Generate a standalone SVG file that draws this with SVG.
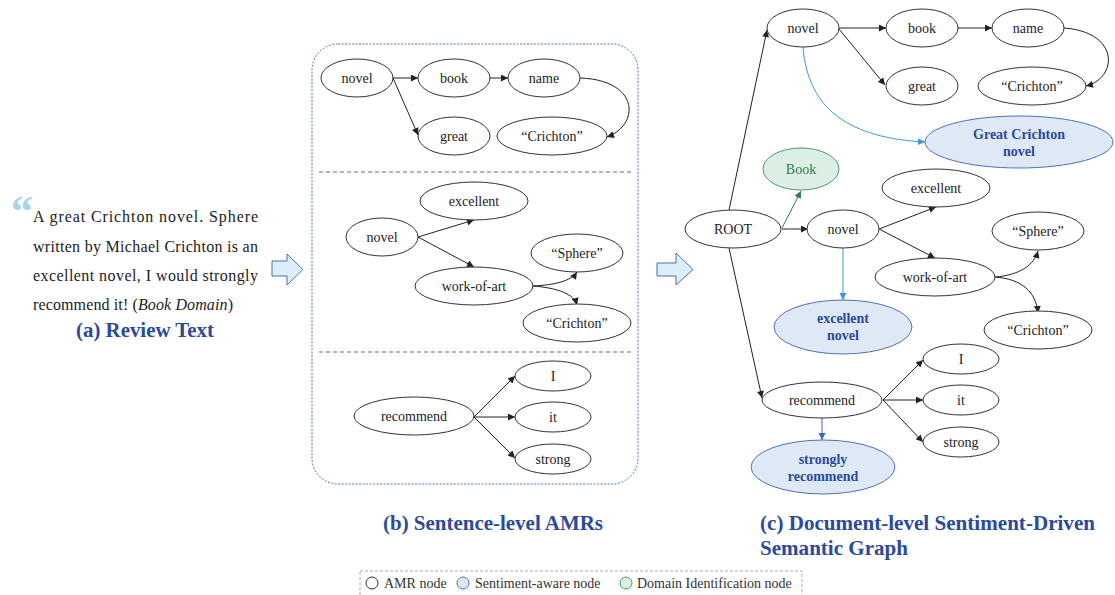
<svg xmlns="http://www.w3.org/2000/svg" width="1115" height="595" viewBox="0 0 1115 595">
  <style>
    .amr { fill: #ffffff; stroke: #333333; stroke-width: 1; }
    .senti { fill: #dfe9f5; stroke: #4a72b8; stroke-width: 1; }
    .domain { fill: #dcefe4; stroke: #4a9a6a; stroke-width: 1; }
    .lbl { font-family: "Liberation Serif", "Times New Roman", serif; font-size: 14px; fill: #222222; text-anchor: middle; }
    .slbl { font-family: "Liberation Serif", "Times New Roman", serif; font-size: 14px; font-weight: bold; fill: #2b4a9b; text-anchor: middle; }
    .dlbl { font-family: "Liberation Serif", "Times New Roman", serif; font-size: 14px; fill: #2e7d52; text-anchor: middle; }
    .edge { fill: none; stroke: #222222; stroke-width: 1; marker-end: url(#arrow); }
    .sedge { fill: none; stroke: #3a9ad9; stroke-width: 1; marker-end: url(#arrowLight); }
    .sedge2 { fill: none; stroke: #3a6ac0; stroke-width: 1; marker-end: url(#arrowBlue); }
    .gedge { fill: none; stroke: #2e7d52; stroke-width: 1; marker-end: url(#arrowGreen); }
    .review { font-family: "Liberation Serif", "Times New Roman", serif; font-size: 16px; fill: #222222; }
    .caption { font-family: "Liberation Serif", "Times New Roman", serif; font-size: 21px; font-weight: bold; fill: #2b4a9b; }
    .legend { font-family: "Liberation Serif", "Times New Roman", serif; font-size: 14px; fill: #333333; }
    .block { fill: #ddeefa; stroke: #4a6fb0; stroke-width: 1; }
  </style>
  <defs>
    <marker id="arrow" viewBox="0 0 10 10" refX="10" refY="5" markerWidth="9" markerHeight="7" markerUnits="userSpaceOnUse" orient="auto">
      <path d="M0,0 L10,5 L0,10 Z" fill="#222222"/>
    </marker>
    <marker id="arrowLight" viewBox="0 0 10 10" refX="10" refY="5" markerWidth="9" markerHeight="7" markerUnits="userSpaceOnUse" orient="auto">
      <path d="M0,0 L10,5 L0,10 Z" fill="#3a9ad9"/>
    </marker>
    <marker id="arrowBlue" viewBox="0 0 10 10" refX="10" refY="5" markerWidth="9" markerHeight="7" markerUnits="userSpaceOnUse" orient="auto">
      <path d="M0,0 L10,5 L0,10 Z" fill="#3a6ac0"/>
    </marker>
    <marker id="arrowGreen" viewBox="0 0 10 10" refX="10" refY="5" markerWidth="9" markerHeight="7" markerUnits="userSpaceOnUse" orient="auto">
      <path d="M0,0 L10,5 L0,10 Z" fill="#2e7d52"/>
    </marker>
  </defs>

  <rect width="1115" height="595" fill="#ffffff"/>

  <!-- (a) review text -->
  <g id="review-text">
    <text x="11" y="226" font-family="Liberation Serif, serif" font-size="44" font-weight="bold" fill="#a9d3f0">“</text>
    <text class="review" x="33" y="222" textLength="225" lengthAdjust="spacing">A great Crichton novel. Sphere</text>
    <text class="review" x="33" y="252" textLength="225" lengthAdjust="spacing">written by Michael Crichton is an</text>
    <text class="review" x="33" y="281" textLength="225" lengthAdjust="spacing">excellent novel, I would strongly</text>
    <text class="review" x="33" y="310" textLength="200" lengthAdjust="spacing">recommend it! (<tspan font-style="italic">Book Domain</tspan>)</text>
    <text class="caption" x="145" y="337" text-anchor="middle" textLength="138" lengthAdjust="spacingAndGlyphs">(a) Review Text</text>
  </g>

  <!-- block arrows between panels -->
  <g id="block-arrows">
    <path class="block" d="M272,261 H287 V254 L303,269.5 L287,285 V276 H272 Z"/>
    <path class="block" d="M657,263 H676 V253 L693,269.5 L676,285 V276 H657 Z"/>
  </g>

  <!-- (b) sentence-level AMRs frame -->
  <g id="amr-frame">
    <rect x="312" y="44" width="326" height="440" rx="26" ry="26" fill="none" stroke="#4a72c0" stroke-width="1" stroke-dasharray="2,1.5"/>
    <line x1="319" y1="172" x2="632" y2="172" stroke="#4a72c0" stroke-width="1" stroke-dasharray="4,3"/>
    <line x1="319" y1="352" x2="632" y2="352" stroke="#4a72c0" stroke-width="1" stroke-dasharray="4,3"/>
  </g>

  <!-- connectors -->
  <g id="connectors">
    <!-- sentence 1 -->
    <line class="edge" x1="393" y1="78" x2="418" y2="78"/>
    <line class="edge" x1="490" y1="78" x2="508" y2="78"/>
    <line class="edge" x1="393" y1="78" x2="418" y2="135"/>
    <path class="edge" d="M580,78 C640,80 640,125 607,137"/>
    <!-- sentence 2 -->
    <line class="edge" x1="418" y1="237" x2="474" y2="220"/>
    <line class="edge" x1="418" y1="237" x2="474" y2="267"/>
    <path class="edge" d="M533,286 C555,285 571,281 577,272"/>
    <path class="edge" d="M533,286 C558,288 574,294 577,305"/>
    <!-- sentence 3 -->
    <line class="edge" x1="474" y1="417" x2="515" y2="376"/>
    <line class="edge" x1="474" y1="417" x2="515" y2="417"/>
    <line class="edge" x1="474" y1="417" x2="515" y2="458"/>

    <!-- document graph -->
    <line class="edge" x1="729" y1="210" x2="767" y2="30"/>
    <line class="edge" x1="729" y1="248" x2="762" y2="398"/>
    <line class="gedge" x1="782" y1="228" x2="801" y2="191"/>
    <line class="edge" x1="782" y1="229" x2="808" y2="229"/>
    <line class="edge" x1="839" y1="28" x2="886" y2="28"/>
    <line class="edge" x1="958" y1="28" x2="992" y2="28"/>
    <line class="edge" x1="839" y1="29" x2="885" y2="85"/>
    <path class="edge" d="M1064,28 C1120,32 1118,78 1086,86"/>
    <path class="sedge" d="M803,47 C808,110 850,138 925,142"/>
    <line class="edge" x1="879" y1="229" x2="936" y2="207"/>
    <line class="edge" x1="879" y1="229" x2="935" y2="258"/>
    <path class="edge" d="M995,277 C1020,275 1034,265 1038,251"/>
    <path class="edge" d="M995,277 C1022,279 1036,292 1038,313"/>
    <line class="sedge" x1="843" y1="248" x2="843" y2="300"/>
    <line class="edge" x1="883" y1="400" x2="923" y2="360"/>
    <line class="edge" x1="883" y1="400" x2="923" y2="400"/>
    <line class="edge" x1="883" y1="400" x2="923" y2="442"/>
    <line class="sedge2" x1="822" y1="418" x2="822" y2="440"/>
  </g>

  <!-- sentence-level AMR nodes -->
  <g id="s1-novel"><ellipse class="amr" cx="357" cy="78" rx="36" ry="19"/><text class="lbl" x="357" y="83">novel</text></g>
  <g id="s1-book"><ellipse class="amr" cx="454" cy="78" rx="36" ry="19"/><text class="lbl" x="454" y="83">book</text></g>
  <g id="s1-name"><ellipse class="amr" cx="544" cy="78" rx="36" ry="19"/><text class="lbl" x="544" y="83">name</text></g>
  <g id="s1-great"><ellipse class="amr" cx="454" cy="136" rx="36" ry="19"/><text class="lbl" x="454" y="141">great</text></g>
  <g id="s1-crichton"><ellipse class="amr" cx="552" cy="136" rx="55" ry="19"/><text class="lbl" x="552" y="141">“Crichton”</text></g>

  <g id="s2-excellent"><ellipse class="amr" cx="474" cy="201" rx="54" ry="19"/><text class="lbl" x="474" y="206">excellent</text></g>
  <g id="s2-novel"><ellipse class="amr" cx="382" cy="237" rx="36" ry="19"/><text class="lbl" x="382" y="242">novel</text></g>
  <g id="s2-work"><ellipse class="amr" cx="474" cy="286" rx="59" ry="19"/><text class="lbl" x="474" y="291">work-of-art</text></g>
  <g id="s2-sphere"><ellipse class="amr" cx="577" cy="253" rx="46" ry="19"/><text class="lbl" x="577" y="258">“Sphere”</text></g>
  <g id="s2-crichton"><ellipse class="amr" cx="577" cy="323" rx="54" ry="19"/><text class="lbl" x="577" y="328">“Crichton”</text></g>

  <g id="s3-recommend"><ellipse class="amr" cx="414" cy="416" rx="60" ry="19"/><text class="lbl" x="414" y="421">recommend</text></g>
  <g id="s3-i"><ellipse class="amr" cx="553" cy="376" rx="38" ry="15"/><text class="lbl" x="553" y="381">I</text></g>
  <g id="s3-it"><ellipse class="amr" cx="553" cy="417" rx="38" ry="15"/><text class="lbl" x="553" y="422">it</text></g>
  <g id="s3-strong"><ellipse class="amr" cx="553" cy="459" rx="38" ry="15"/><text class="lbl" x="553" y="464">strong</text></g>

  <!-- document-level graph nodes -->
  <g id="d-root"><ellipse class="amr" cx="733" cy="229" rx="48" ry="19"/><text class="lbl" x="733" y="234">ROOT</text></g>
  <g id="d-novel1"><ellipse class="amr" cx="803" cy="28" rx="36" ry="19"/><text class="lbl" x="803" y="33">novel</text></g>
  <g id="d-book"><ellipse class="amr" cx="922" cy="28" rx="36" ry="19"/><text class="lbl" x="922" y="33">book</text></g>
  <g id="d-name"><ellipse class="amr" cx="1028" cy="28" rx="36" ry="19"/><text class="lbl" x="1028" y="33">name</text></g>
  <g id="d-great"><ellipse class="amr" cx="922" cy="86" rx="36" ry="19"/><text class="lbl" x="922" y="91">great</text></g>
  <g id="d-crichton1"><ellipse class="amr" cx="1032" cy="86" rx="54" ry="19"/><text class="lbl" x="1032" y="91">“Crichton”</text></g>
  <g id="d-great-crichton-novel"><ellipse class="senti" cx="1019" cy="142" rx="94" ry="26"/><text class="slbl" x="1019" y="139">Great Crichton</text><text class="slbl" x="1019" y="156">novel</text></g>
  <g id="d-domain-book"><ellipse class="domain" cx="801" cy="169" rx="38" ry="21"/><text class="dlbl" x="801" y="174">Book</text></g>
  <g id="d-novel2"><ellipse class="amr" cx="843" cy="229" rx="36" ry="19"/><text class="lbl" x="843" y="234">novel</text></g>
  <g id="d-excellent"><ellipse class="amr" cx="936" cy="188" rx="54" ry="19"/><text class="lbl" x="936" y="193">excellent</text></g>
  <g id="d-sphere"><ellipse class="amr" cx="1038" cy="231" rx="46" ry="19"/><text class="lbl" x="1038" y="236">“Sphere”</text></g>
  <g id="d-work"><ellipse class="amr" cx="935" cy="277" rx="60" ry="19"/><text class="lbl" x="935" y="282">work-of-art</text></g>
  <g id="d-crichton2"><ellipse class="amr" cx="1038" cy="330" rx="54" ry="19"/><text class="lbl" x="1038" y="335">“Crichton”</text></g>
  <g id="d-excellent-novel"><ellipse class="senti" cx="843" cy="327" rx="69" ry="27"/><text class="slbl" x="843" y="323">excellent</text><text class="slbl" x="843" y="340">novel</text></g>
  <g id="d-recommend"><ellipse class="amr" cx="822" cy="400" rx="60" ry="18"/><text class="lbl" x="822" y="405">recommend</text></g>
  <g id="d-i"><ellipse class="amr" cx="961" cy="359" rx="38" ry="15"/><text class="lbl" x="961" y="364">I</text></g>
  <g id="d-it"><ellipse class="amr" cx="961" cy="400" rx="38" ry="15"/><text class="lbl" x="961" y="405">it</text></g>
  <g id="d-strong"><ellipse class="amr" cx="961" cy="442" rx="38" ry="15"/><text class="lbl" x="961" y="447">strong</text></g>
  <g id="d-strongly-recommend"><ellipse class="senti" cx="823" cy="467" rx="72" ry="27"/><text class="slbl" x="823" y="464">strongly</text><text class="slbl" x="823" y="481">recommend</text></g>

  <!-- panel captions -->
  <g id="captions">
    <text class="caption" x="383" y="530" textLength="220" lengthAdjust="spacingAndGlyphs">(b) Sentence-level AMRs</text>
    <text class="caption" x="760" y="530" textLength="335" lengthAdjust="spacingAndGlyphs">(c) Document-level Sentiment-Driven</text>
    <text class="caption" x="760" y="555" textLength="148" lengthAdjust="spacingAndGlyphs">Semantic Graph</text>
  </g>

  <!-- legend -->
  <g id="legend">
    <rect x="360" y="571" width="442" height="30" fill="none" stroke="#aaaaaa" stroke-width="1" stroke-dasharray="3,2"/>
    <circle cx="372" cy="583" r="6" fill="#ffffff" stroke="#333333" stroke-width="1"/>
    <text class="legend" x="384" y="588">AMR node</text>
    <circle cx="463" cy="583" r="6" fill="#dfe9f5" stroke="#4a72b8" stroke-width="1"/>
    <text class="legend" x="475" y="588">Sentiment-aware node</text>
    <circle cx="626" cy="583" r="6" fill="#dcefe4" stroke="#4a9a6a" stroke-width="1"/>
    <text class="legend" x="637" y="588">Domain Identification node</text>
  </g>
</svg>
